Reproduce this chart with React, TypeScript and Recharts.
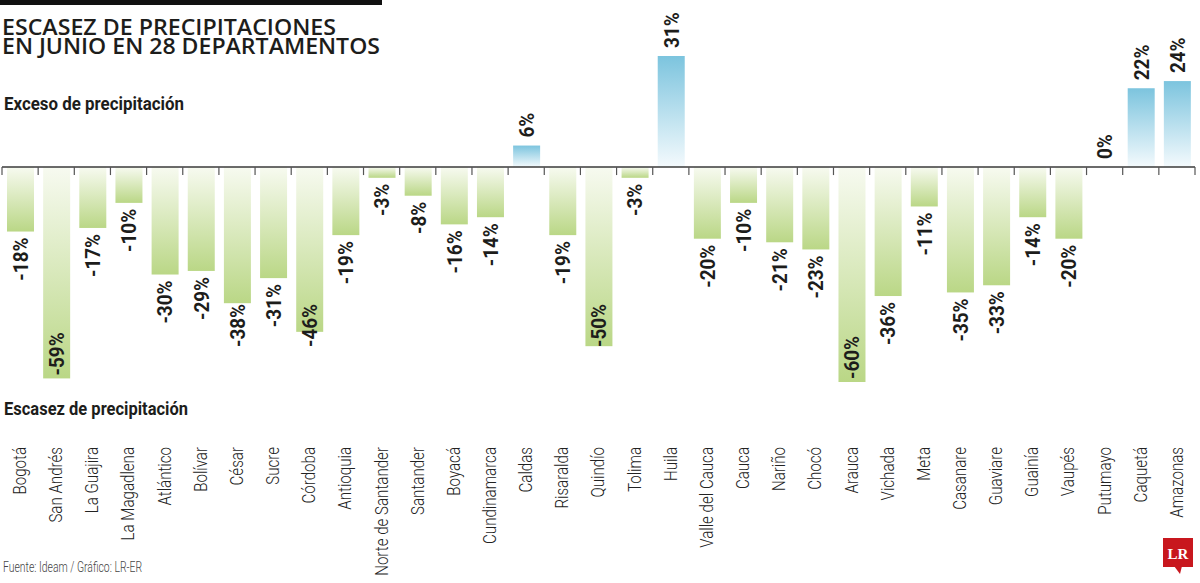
import React from 'react';
import { BarChart, Bar, XAxis, YAxis, ReferenceLine, LabelList } from 'recharts';

const departamentos = [
  'Bogotá', 'San Andrés', 'La Guajira', 'La Magadlena', 'Atlántico', 'Bolívar',
  'César', 'Sucre', 'Córdoba', 'Antioquia', 'Norte de Santander', 'Santander',
  'Boyacá', 'Cundinamarca', 'Caldas', 'Risaralda', 'Quindío', 'Tolima', 'Huila',
  'Valle del Cauca', 'Cauca', 'Nariño', 'Chocó', 'Arauca', 'Vichada', 'Meta',
  'Casanare', 'Guaviare', 'Guainía', 'Vaupés', 'Putumayo', 'Caquetá', 'Amazonas',
];

// variación de la precipitación en junio, en %
const variacion = [
  -18, -59, -17, -10, -30, -29, -38, -31, -46, -19, -3, -8, -16, -14, 6, -19,
  -50, -3, 31, -20, -10, -21, -23, -60, -36, -11, -35, -33, -14, -20, 0, 22, 24,
];

const data = departamentos.map((nombre, i) => ({ nombre, valor: variacion[i] }));

const SANS = "Roboto, 'Liberation Sans', sans-serif";
const INK = '#1d1d1b';
// línea bajo la cual no bajan las etiquetas de valor
const LABEL_FLOOR = 347;

const BarShape = (props: any) => {
  const { x, y, width, height, value } = props;
  const top = Math.min(y, y + height);
  const h = Math.abs(height);
  const fill = value >= 0 ? 'url(#gradPos)' : 'url(#gradNeg)';
  return <rect x={x} y={top} width={width} height={h} fill={fill} />;
};

const renderValueLabel = (props: any) => {
  const { x, y, width, height, value } = props;
  const cx = x + width / 2;
  const top = Math.min(y, y + height);
  const bottom = Math.max(y, y + height);
  let ly = top - 8;
  let anchor = 'start';
  if (value < 0) {
    if (bottom + 6 + 42 > LABEL_FLOOR) {
      ly = Math.max(LABEL_FLOOR, bottom - 3);
      anchor = 'start';
    } else {
      ly = bottom + 6;
      anchor = 'end';
    }
  }
  return (
    <text
      transform={`translate(${cx},${ly}) rotate(-90) scale(0.9,1)`}
      textAnchor={anchor}
      dominantBaseline="central"
      fontFamily={SANS}
      fontWeight={700}
      fontSize={21}
      fill={INK}
    >
      {`${value}%`}
    </text>
  );
};

const CategoryTick = (props: any) => {
  const { x, y, payload } = props;
  return (
    <text
      transform={`translate(${x},${y + 57}) rotate(-90) scale(0.84,1)`}
      textAnchor="end"
      dominantBaseline="central"
      fontFamily={SANS}
      fontWeight={300}
      fontSize={18}
      fill="#222"
    >
      {payload.value}
    </text>
  );
};

// marcas entre categorías sobre la línea del cero
const BandTicks = (props: any) => {
  const { viewBox } = props;
  if (!viewBox) return null;
  const n = departamentos.length;
  const step = viewBox.width / n;
  const marks = [];
  for (let i = 0; i <= n; i++) {
    const tx = viewBox.x + i * step;
    marks.push(
      <line key={i} x1={tx} x2={tx} y1={viewBox.y} y2={viewBox.y + 8} stroke="#555" strokeWidth={1.2} />
    );
  }
  return <g>{marks}</g>;
};

export default function App() {
  return (
    <div style={{ position: 'relative', width: 1200, height: 583, background: '#fff', overflow: 'hidden' }}>
      <style>{'body{margin:0}'}</style>
      <BarChart
        width={1200}
        height={583}
        data={data}
        margin={{ top: 56, right: 5, left: 2, bottom: 141 }}
      >
        <defs>
          <linearGradient id="gradNeg" x1="0" y1="0" x2="0" y2="1">
            <stop offset="0%" stopColor="#f7faf0" />
            <stop offset="100%" stopColor="#bad786" />
          </linearGradient>
          <linearGradient id="gradPos" x1="0" y1="0" x2="0" y2="1">
            <stop offset="0%" stopColor="#7cc4de" />
            <stop offset="100%" stopColor="#f4fafd" />
          </linearGradient>
        </defs>
        <XAxis
          dataKey="nombre"
          height={60}
          axisLine={false}
          tickLine={false}
          interval={0}
          tick={<CategoryTick />}
        />
        <YAxis hide domain={[-60, 31]} allowDataOverflow />
        <Bar dataKey="valor" barSize={27} shape={<BarShape />} isAnimationActive={false}>
          <LabelList dataKey="valor" content={renderValueLabel} />
        </Bar>
        <ReferenceLine y={0} stroke="#3a3a3a" strokeWidth={1.5} label={<BandTicks />} />
      </BarChart>

      <svg
        width={1200}
        height={583}
        style={{ position: 'absolute', left: 0, top: 0, pointerEvents: 'none' }}
      >
        <rect x={0} y={0} width={382} height={5} fill="#111" />
        <g fontFamily="'Open Sans', sans-serif" fontWeight={600} fontSize={21} fill={INK}>
          <text x={2} y={35} textLength={334} lengthAdjust="spacingAndGlyphs">ESCASEZ DE PRECIPITACIONES</text>
          <text x={2} y={54} textLength={378} lengthAdjust="spacingAndGlyphs">EN JUNIO EN 28 DEPARTAMENTOS</text>
        </g>
        <g fontFamily={SANS} fontWeight={700} fontSize={19} fill={INK}>
          <text x={4} y={110} textLength={180} lengthAdjust="spacingAndGlyphs">Exceso de precipitación</text>
          <text x={4} y={415} textLength={184} lengthAdjust="spacingAndGlyphs">Escasez de precipitación</text>
        </g>
        <text x={3} y={572} fontFamily={SANS} fontWeight={300} fontSize={14} fill="#444" textLength={139} lengthAdjust="spacingAndGlyphs">
          Fuente: Ideam / Gráfico: LR-ER
        </text>
        <g>
          <rect x={1163} y={538} width={30} height={29} fill="#c8171e" />
          <path d="M1174 566 L1180 574 L1182 566 Z" fill="#c8171e" />
          <text
            x={1178}
            y={559}
            textAnchor="middle"
            fontFamily="'Liberation Serif', 'DejaVu Serif', serif"
            fontWeight={700}
            fontSize={15}
            fill="#fff"
          >
            LR
          </text>
        </g>
      </svg>
    </div>
  );
}
